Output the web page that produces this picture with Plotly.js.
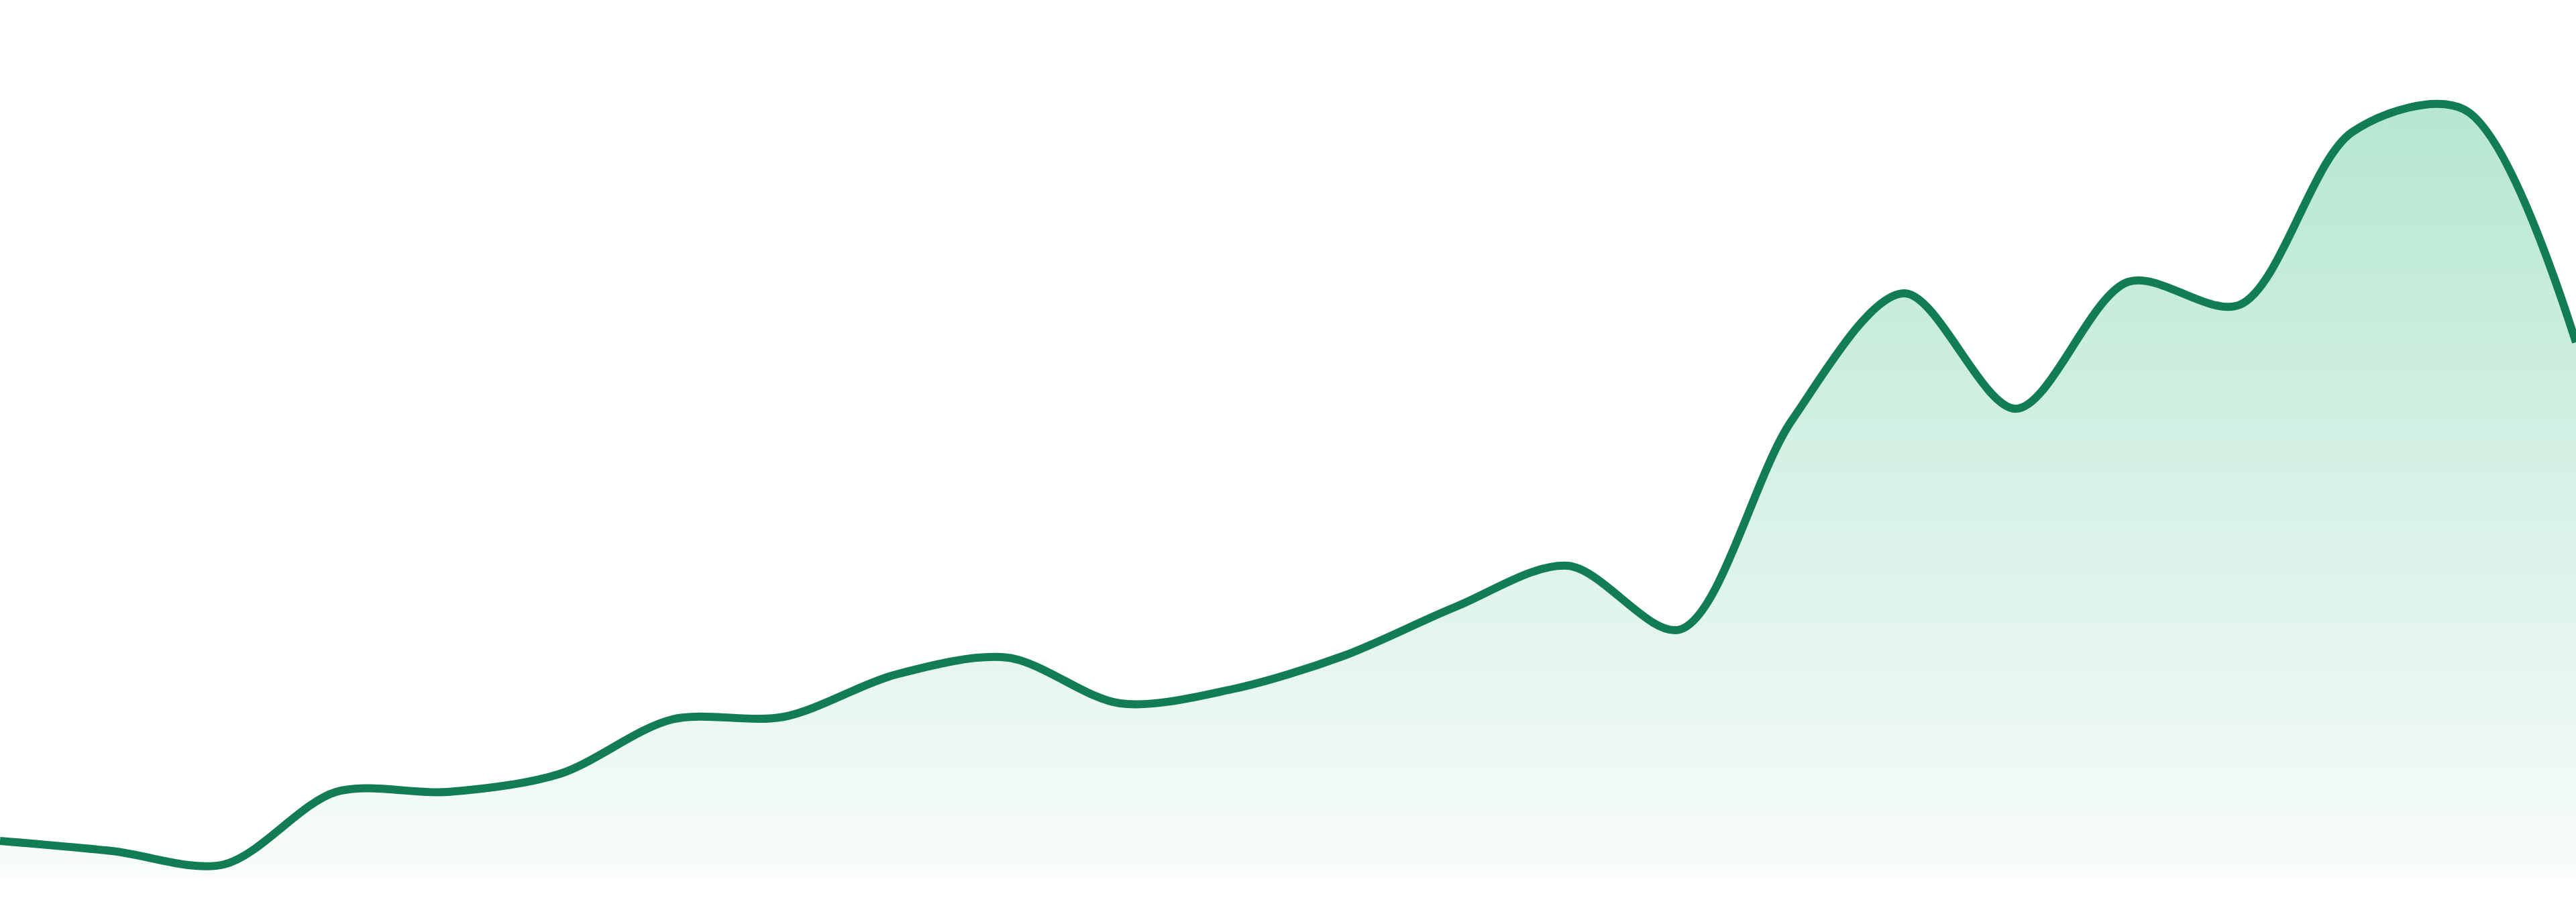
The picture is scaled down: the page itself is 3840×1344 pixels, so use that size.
<!DOCTYPE html>
<html>
<head>
<meta charset="utf-8">
<script src="https://cdn.plot.ly/plotly-3.0.1.min.js"></script>
<style>
  html, body { margin: 0; padding: 0; background: #ffffff; }
  #chart { width: 3840px; height: 1344px; }
</style>
</head>
<body>
<div id="chart"></div>
<script>
// Point index along the x axis (evenly spaced samples)
const periods = [0,1,2,3,4,5,6,7,8,9,10,11,12,13,14,15,16,17,18,19,20,21,22,23];
// Series values
const values = [5.3, 3.8, 1.8, 12.6, 12.6, 15.3, 23.4, 23.8, 30.1, 32.6, 25.8, 27.9,
                32.9, 40.2, 46.3, 36.8, 68.0, 86.9, 69.7, 88.6, 85.2, 110.9, 114.3, 79.6];

const lineColor = '#127c52';

const trace = {
  x: periods,
  y: values,
  type: 'scatter',
  mode: 'lines',
  line: { color: lineColor, width: 12, shape: 'spline', smoothing: 0.9 },
  fill: 'tozeroy',
  fillgradient: {
    type: 'vertical',
    start: 0,
    stop: Math.max(...values),
    colorscale: [
      [0, 'rgb(248,252,250)'],
      [1, 'rgb(182,231,210)']
    ]
  },
  hoverinfo: 'skip'
};

const layout = {
  width: 3840,
  height: 1344,
  margin: { l: 0, r: 0, t: 0, b: 38, pad: 0 },
  paper_bgcolor: '#ffffff',
  plot_bgcolor: '#ffffff',
  showlegend: false,
  xaxis: { range: [0, periods.length - 1], visible: false, showgrid: false, zeroline: false, fixedrange: true },
  yaxis: { range: [0, 130.6], visible: false, showgrid: false, zeroline: false, fixedrange: true }
};

Plotly.newPlot('chart', [trace], layout, { displayModeBar: false, staticPlot: true });
</script>
</body>
</html>
